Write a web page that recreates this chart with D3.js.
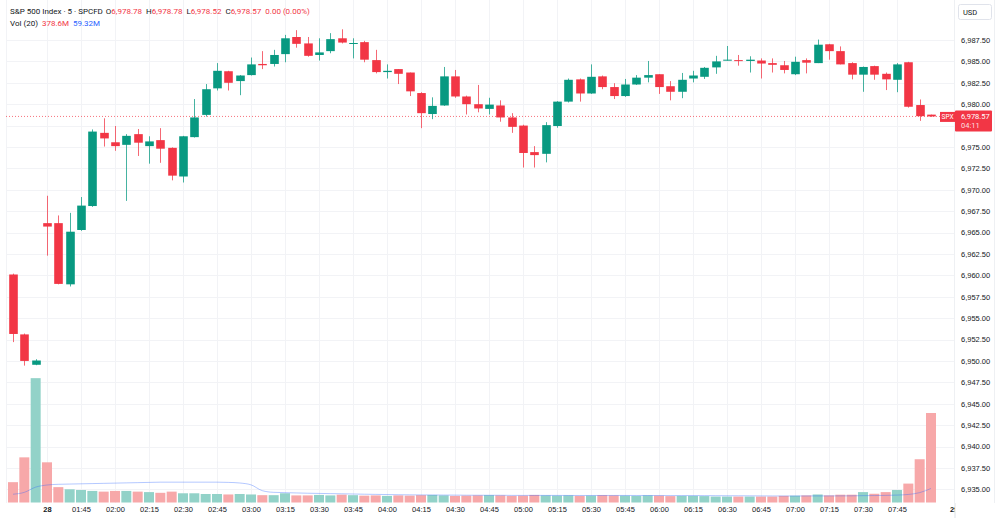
<!DOCTYPE html>
<html>
<head>
<meta charset="utf-8">
<title>S&amp;P 500 Index 5m</title>
<script src="https://cdn.jsdelivr.net/npm/d3@7/dist/d3.min.js"></script>
<style>
    body { margin: 0; background: #fff; }
    svg { display: block; font-family: Roboto, "Noto Sans", sans-serif; }
    .axis text { fill: #131722; font-size: 7.5px; }
    .axis path, .axis line { display: none; }
    .grid line { stroke: #f2f3f6; stroke-width: 1; }
</style>
</head>
<body>
<script>
// candle index 0 = 01:15, one bar every 5 minutes
var opens = [6960.1, 6953.1, 6949.55, 6966.1, 6966.1, 6958.95, 6965.3, 6968.1, 6976.65, 6975.55,
    6975.25, 6976.5, 6975.1, 6975.8, 6974.9, 6971.55, 6976.15, 6978.75, 6981.85, 6983.85,
    6982.7, 6983.4, 6984.7, 6984.7, 6985.85, 6987.85, 6987.1, 6985.75, 6986.2, 6987.7,
    6987.05, 6987.25, 6985.15, 6983.75, 6984.1, 6983.7, 6981.3, 6978.85, 6979.85, 6983.25,
    6980.9, 6980.0, 6979.45, 6979.85, 6978.45, 6977.5, 6974.4, 6974.2, 6977.45, 6980.3,
    6982.9, 6981.25, 6983.25, 6982.0, 6980.95, 6982.3, 6983.1, 6983.5, 6982.1, 6981.45,
    6983.0, 6983.2, 6984.3, 6985.1, 6985.15, 6985.05, 6985.1, 6984.8, 6984.55, 6983.5,
    6985.15, 6984.8, 6987.0, 6986.2, 6984.8, 6983.45, 6984.45, 6983.55, 6982.85, 6984.9,
    6979.9, 6978.78];
var highs = [6960.2, 6953.2, 6950.2, 6969.3, 6967.0, 6967.3, 6969.15, 6977.05, 6978.35, 6977.45,
    6976.5, 6977.1, 6976.25, 6977.2, 6974.95, 6976.3, 6980.6, 6982.35, 6984.8, 6983.9,
    6983.4, 6985.45, 6986.2, 6986.35, 6988.1, 6988.65, 6987.85, 6987.7, 6988.3, 6988.75,
    6987.7, 6987.4, 6986.35, 6984.65, 6984.1, 6983.7, 6981.4, 6980.8, 6984.35, 6984.0,
    6981.0, 6982.25, 6980.75, 6980.45, 6978.95, 6977.6, 6975.1, 6977.9, 6980.35, 6983.0,
    6983.0, 6984.65, 6983.35, 6982.45, 6982.95, 6983.4, 6985.05, 6983.5, 6982.7, 6983.65,
    6983.9, 6984.35, 6985.65, 6986.8, 6985.75, 6985.6, 6985.35, 6985.35, 6985.05, 6985.55,
    6985.35, 6987.55, 6987.05, 6986.75, 6984.9, 6984.4, 6984.5, 6983.7, 6984.8, 6984.95,
    6980.55, 6978.78];
var lows = [6952.2, 6949.45, 6949.5, 6962.3, 6958.95, 6958.7, 6965.2, 6968.0, 6975.05, 6974.55,
    6968.7, 6973.95, 6973.05, 6973.15, 6971.1, 6970.85, 6976.1, 6978.55, 6981.6, 6981.6,
    6981.05, 6983.35, 6984.1, 6984.4, 6984.9, 6986.6, 6985.55, 6985.1, 6985.95, 6987.1,
    6985.35, 6984.9, 6983.6, 6983.0, 6982.35, 6980.95, 6977.2, 6978.25, 6979.8, 6980.75,
    6978.8, 6979.05, 6978.8, 6977.95, 6976.65, 6972.6, 6972.6, 6973.2, 6977.25, 6980.2,
    6980.3, 6981.2, 6981.75, 6980.6, 6980.85, 6982.25, 6982.55, 6981.2, 6980.45, 6980.7,
    6982.55, 6982.95, 6983.55, 6985.1, 6984.5, 6983.7, 6983.0, 6983.7, 6983.6, 6983.4,
    6983.6, 6984.8, 6985.2, 6984.65, 6982.9, 6981.45, 6982.85, 6981.65, 6981.4, 6979.6,
    6978.05, 6978.52];
var closes = [6953.15, 6950.0, 6950.05, 6965.7, 6959.0, 6965.1, 6968.15, 6976.8, 6976.0, 6975.1,
    6976.3, 6975.5, 6975.65, 6974.8, 6971.65, 6976.25, 6978.45, 6981.75, 6983.9, 6982.5,
    6983.35, 6984.65, 6984.55, 6985.75, 6987.7, 6987.05, 6985.65, 6986.05, 6987.6, 6987.2,
    6987.15, 6985.2, 6983.75, 6983.9, 6983.55, 6981.5, 6978.95, 6979.8, 6983.25, 6980.9,
    6980.0, 6979.5, 6979.95, 6978.45, 6977.35, 6974.3, 6974.05, 6977.55, 6980.3, 6982.85,
    6981.25, 6983.2, 6982.0, 6980.95, 6982.3, 6983.1, 6983.4, 6982.0, 6981.45, 6982.85,
    6983.35, 6984.25, 6985.0, 6985.2, 6985.1, 6985.2, 6984.75, 6984.6, 6984.0, 6984.95,
    6984.85, 6986.95, 6986.2, 6984.65, 6983.45, 6984.35, 6983.45, 6982.9, 6984.65, 6979.7,
    6978.6, 6978.57];
// volume in millions
var volumes = [86, 191, 526, 170, 65, 56, 53, 49, 46, 49,
    49, 46, 44, 41, 46, 39, 39, 36, 36, 34,
    36, 34, 31, 31, 39, 30, 30, 32, 30, 33,
    31, 29, 30, 28, 30, 29, 31, 32, 30, 28,
    29, 30, 31, 30, 28, 29, 32, 30, 29, 30,
    28, 29, 31, 30, 29, 28, 30, 29, 27, 28,
    28, 27, 25, 25, 25, 25, 25, 25, 28, 28.8,
    30, 34, 30, 33, 33, 44, 37, 44, 53, 80,
    183, 378.6];
// Vol MA(20) for the first bars (window reaches before the visible range)
var maLead = [35, 43, 65, 74, 77, 78, 79, 80, 81, 82, 83, 84, 85, 86, 86, 86, 86, 86, 86];

var timeTickIdx = [3, 6, 9, 12, 15, 18, 21, 24, 27, 30, 33, 36, 39, 42, 45, 48, 51, 54, 57, 60, 63, 66, 69, 72, 75, 78, 83];
var timeTickLabels = ["28", "01:45", "02:00", "02:15", "02:30", "02:45", "03:00", "03:15", "03:30", "03:45",
    "04:00", "04:15", "04:30", "04:45", "05:00", "05:15", "05:30", "05:45", "06:00", "06:15",
    "06:30", "06:45", "07:00", "07:15", "07:30", "07:45", "29"];
var priceTicks = [6935, 6937.5, 6940, 6942.5, 6945, 6947.5, 6950, 6952.5, 6955, 6957.5, 6960,
    6962.5, 6965, 6967.5, 6970, 6972.5, 6975, 6977.5, 6980, 6982.5, 6985, 6987.5];
var lastPrice = 6978.57;

var upColor = "#089981", downColor = "#f23645",
    volUp = "#92d2c8", volDown = "#f7a8a9";

var width = 1000, height = 518,
    paneLeft = 6, paneRight = 954, paneBottom = 503;

var svg = d3.select("body").append("svg")
    .attr("width", width)
    .attr("height", height);

var x = d3.scaleLinear().domain([3, 78]).range([47, 897]);
var y = d3.scaleLinear().domain([6935, 6987.5]).range([489.3, 40]);
var yVol = d3.scaleLinear().domain([0, 378.6]).range([502.5, 413]);

svg.append("defs").append("clipPath")
    .attr("id", "pane-clip")
    .append("rect")
    .attr("x", paneLeft).attr("y", 0)
    .attr("width", paneRight - paneLeft).attr("height", paneBottom);

var bars = d3.range(opens.length).map(function (i) {
    return {i: i, o: opens[i], h: highs[i], l: lows[i], c: closes[i], v: volumes[i]};
});

// moving average of volume
var ma = bars.map(function (d, i) {
    if (i < maLead.length) return {i: i, v: maLead[i]};
    return {i: i, v: d3.mean(volumes.slice(i - 19, i + 1))};
});

// grid
var grid = svg.append("g").attr("class", "grid");
grid.selectAll("line.h")
    .data(priceTicks)
    .enter().append("line")
    .attr("x1", paneLeft).attr("x2", paneRight)
    .attr("y1", function (d) { return Math.round(y(d)) + 0.5; })
    .attr("y2", function (d) { return Math.round(y(d)) + 0.5; });
grid.selectAll("line.v")
    .data(timeTickIdx.slice(0, -1))
    .enter().append("line")
    .attr("y1", 0).attr("y2", paneBottom)
    .attr("x1", function (d) { return Math.round(x(d)) + 0.5; })
    .attr("x2", function (d) { return Math.round(x(d)) + 0.5; });
grid.append("line")
    .attr("x1", paneLeft + 0.5).attr("x2", paneLeft + 0.5)
    .attr("y1", 0).attr("y2", paneBottom);

var body = svg.append("g").attr("clip-path", "url(#pane-clip)");

// volume bars
body.append("g").selectAll("rect")
    .data(bars)
    .enter().append("rect")
    .attr("x", function (d) { return x(d.i) - 5; })
    .attr("width", 10)
    .attr("y", function (d) { return yVol(d.v); })
    .attr("height", function (d) { return yVol(0) - yVol(d.v); })
    .attr("fill", function (d) { return d.c >= d.o ? volUp : volDown; });

body.append("path")
    .datum(ma)
    .attr("fill", "none")
    .attr("stroke", "#2962ff")
    .attr("stroke-opacity", 0.35)
    .attr("stroke-width", 1)
    .attr("d", d3.line()
        .curve(d3.curveMonotoneX)
        .x(function (d) { return x(d.i); })
        .y(function (d) { return yVol(d.v); }));

// last price line
body.append("line")
    .attr("x1", paneLeft).attr("x2", paneRight)
    .attr("y1", y(lastPrice)).attr("y2", y(lastPrice))
    .attr("stroke", downColor)
    .attr("stroke-opacity", 0.7)
    .attr("stroke-dasharray", "1,2");

// candles
var candle = body.append("g").selectAll("g")
    .data(bars)
    .enter().append("g");

candle.append("line")
    .attr("x1", function (d) { return Math.round(x(d.i)) + 0.5; })
    .attr("x2", function (d) { return Math.round(x(d.i)) + 0.5; })
    .attr("y1", function (d) { return y(d.h); })
    .attr("y2", function (d) { return y(d.l); })
    .attr("stroke", function (d) { return d.c >= d.o ? upColor : downColor; })
    .attr("stroke-opacity", 0.75);

candle.append("rect")
    .attr("x", function (d) { return Math.round(x(d.i)) + 0.5 - 4.3; })
    .attr("width", 8.6)
    .attr("y", function (d) { return y(Math.max(d.o, d.c)); })
    .attr("height", function (d) { return Math.max(1, Math.abs(y(d.o) - y(d.c))); })
    .attr("fill", function (d) { return d.c >= d.o ? upColor : downColor; });

// price axis, ticks hidden behind the last price label are dropped
var ly = y(lastPrice);
svg.append("line")
    .attr("x1", paneRight + 0.5).attr("x2", paneRight + 0.5)
    .attr("y1", 0).attr("y2", height)
    .attr("stroke", "#eef0f3");
svg.append("line")
    .attr("x1", 994.5).attr("x2", 994.5)
    .attr("y1", 0).attr("y2", height)
    .attr("stroke", "#eef0f3");

svg.append("g")
    .attr("class", "axis")
    .attr("transform", "translate(" + (paneRight + 1) + ",0)")
    .call(d3.axisRight(y)
        .tickValues(priceTicks.filter(function (t) { return Math.abs(y(t) - ly - 4) > 14; }))
        .tickFormat(d3.format(",.2f"))
        .tickSize(0)
        .tickPadding(6));

// time axis
var timeAxis = svg.append("g")
    .attr("class", "axis")
    .attr("transform", "translate(0," + paneBottom + ")")
    .call(d3.axisBottom(x)
        .tickValues(timeTickIdx)
        .tickFormat(function (d, i) { return timeTickLabels[i]; })
        .tickSize(0)
        .tickPadding(4));
timeAxis.selectAll("text").attr("font-weight", function (d, i) {
    return (timeTickLabels[i] === "28" || timeTickLabels[i] === "29") ? "bold" : null;
});
// cover the clipped "29" past the pane
svg.append("rect")
    .attr("x", paneRight + 2).attr("y", paneBottom)
    .attr("width", width - paneRight - 2).attr("height", height - paneBottom)
    .attr("fill", "#fff");
svg.append("line")
    .attr("x1", paneRight + 1.5).attr("x2", paneRight + 1.5)
    .attr("y1", paneBottom).attr("y2", height)
    .attr("stroke", "#eef0f3");

// USD box
svg.append("rect")
    .attr("x", 958.5).attr("y", 4.5).attr("width", 33).attr("height", 15)
    .attr("rx", 2).attr("fill", "#fff").attr("stroke", "#e0e3eb");
svg.append("text")
    .attr("x", 963).attr("y", 14.5)
    .attr("font-size", "7.5px").attr("fill", "#131722")
    .text("USD");

// last price labels
svg.append("rect")
    .attr("x", 940).attr("y", ly - 4.5).attr("width", 15).attr("height", 10)
    .attr("fill", downColor);
svg.append("text")
    .attr("x", 947.5).attr("y", ly + 3)
    .attr("text-anchor", "middle")
    .attr("font-size", "6.5px").attr("fill", "#fff")
    .text("SPX");
svg.append("rect")
    .attr("x", 955).attr("y", ly - 6).attr("width", 37).attr("height", 21)
    .attr("rx", 1).attr("fill", downColor);
svg.append("text")
    .attr("x", 961).attr("y", ly + 3)
    .attr("font-size", "7.5px").attr("fill", "#fff")
    .text(d3.format(",.2f")(lastPrice));
svg.append("text")
    .attr("x", 961).attr("y", ly + 12)
    .attr("font-size", "7.5px").attr("fill", "#fff").attr("fill-opacity", 0.85)
    .text("04:11");

// legend
var last = bars[bars.length - 1];
var fmt = d3.format(",.2f");
var head = svg.append("text")
    .attr("x", 10).attr("y", 14)
    .attr("font-size", "8px").attr("fill", "#131722");
head.append("tspan").text("S&P 500 Index · 5 · SPCFD");
[["O", last.o], ["H", last.h], ["L", last.l], ["C", last.c]].forEach(function (p, k) {
    head.append("tspan").attr("dx", k === 0 ? 3 : 4).text(p[0]);
    head.append("tspan").attr("fill", downColor).text(fmt(p[1]));
});
head.append("tspan").attr("dx", 4).attr("fill", downColor).text("0.00 (0.00%)");

var vol = svg.append("text")
    .attr("x", 10).attr("y", 25.5)
    .attr("font-size", "8px").attr("fill", "#131722");
vol.append("tspan").text("Vol (20)");
vol.append("tspan").attr("dx", 4).attr("fill", downColor).text(last.v + "M");
vol.append("tspan").attr("dx", 4).attr("fill", "#2962ff").text(d3.format(".2f")(ma[ma.length - 1].v) + "M");
</script>
</body>
</html>
